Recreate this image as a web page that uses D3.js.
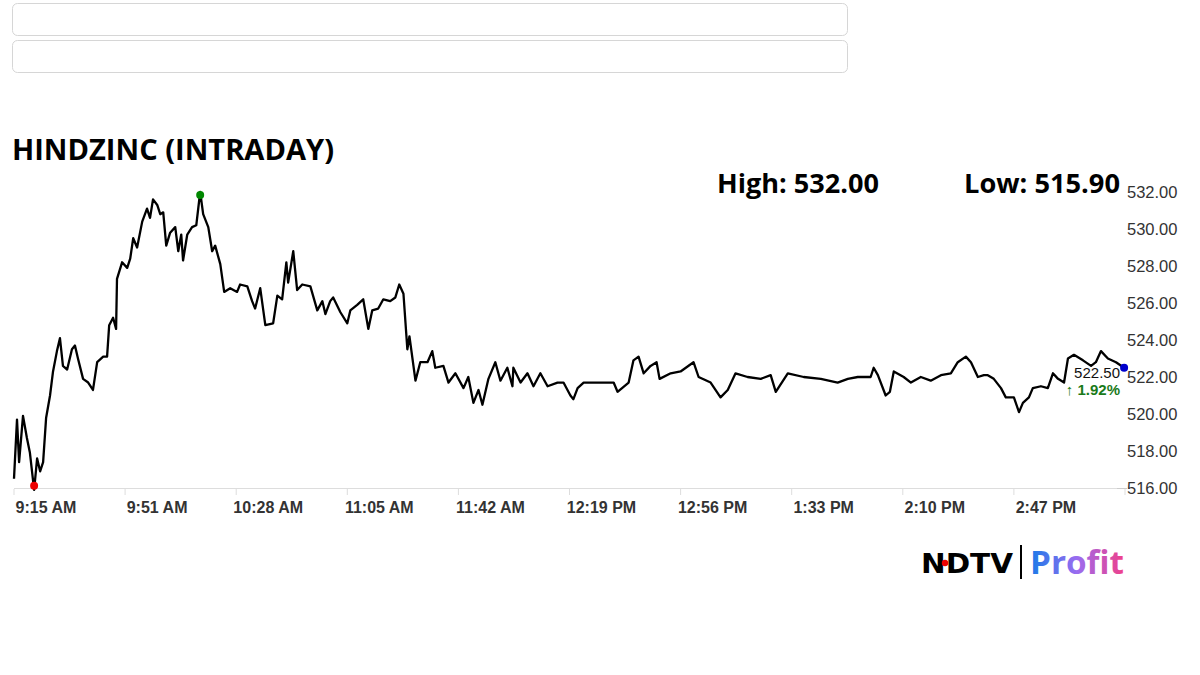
<!DOCTYPE html>
<html>
<head>
<meta charset="utf-8">
<script src="https://cdn.jsdelivr.net/npm/d3@7"></script>
<style>
  body { margin: 0; background: #fff; }
  svg text { font-family: "Liberation Sans", Arial, sans-serif; }
</style>
</head>
<body>
<div id="chart-area"></div>
<script>
// minutes after 9:15 and price
var minutes = [0,1,1.7,3,4.3,5.3,6.7,7.7,8.7,9.7,10.7,12,13,14.3,15.3,16.3,17.7,19.3,20.3,21.3,23,24.7,26.3,27.7,29.7,31,31.7,33,34,34.3,36,37.7,38.7,39.7,41,42.7,44.3,45.3,46.3,47.7,48.7,49.7,50.7,52,53.7,54.7,55.7,56.3,57.7,59.3,60.7,62,63,64.7,66,67,68.7,70,72,74.3,75.3,77.7,79.3,80.3,82,83.7,86.3,87.7,89.3,90.7,91.3,
  93,94.3,96,98.7,101,102.7,103.7,105.3,106.3,108.7,111,112,114.3,116.3,118,119.3,121.3,123,125.3,127,128.3,129.7,131,131.7,133.7,135.3,137.7,139.3,140.3,143,144.7,147,149.7,151.3,153,154.7,156,158,160.3,162,164.3,166,166.3,168.7,171,173,175.3,177.7,181,183,185.3,186.3,187.7,
  189.7,199.7,201,204.7,206.3,208,209.7,212,214,215,218.7,222,226.3,228,232,235.3,237.7,240.3,244.3,248.7,252,253.7,257.7,263,268.7,274.3,277.7,281,285.3,286.3,287.7,290.3,291.7,293,296.3,298.7,302,305.3,308.7,312,314.3,317,318.7,321,323,324.3,326.3,328.7,330.3,333,334.7,336,338,339.3,342,344.3,346,347.7,349.7,351,353,356,358.7,360.3,362,364.3,367,369.7];
var prices = [516.5,519.7,517.4,519.9,518.7,517.9,515.9,517.6,516.9,517.4,519.8,521.0,522.3,523.4,524.1,522.6,522.4,523.5,523.7,523.0,521.9,521.7,521.3,522.8,523.1,523.1,524.8,525.2,524.6,527.3,528.2,527.9,528.4,529.5,529.0,530.4,531.1,530.6,531.6,531.3,530.8,530.9,529.1,529.8,530.1,528.8,529.7,528.3,529.7,530.1,530.2,532.0,530.8,530.1,528.8,529.1,528.1,526.6,526.8,526.6,527.0,526.9,526.1,525.7,526.8,524.8,524.9,526.4,526.2,528.2,527.1,
  528.8,526.7,527.0,526.9,525.6,526.1,525.4,526.1,526.3,525.5,524.9,525.6,525.9,526.2,524.6,525.6,525.7,526.2,526.1,526.3,527.0,526.5,523.5,524.2,521.8,522.8,522.8,523.4,522.5,522.6,521.7,522.2,521.4,522.0,520.6,521.3,520.5,521.9,522.8,521.8,522.5,521.5,522.5,521.7,522.2,521.5,522.2,521.5,521.7,521.7,521.0,520.8,521.4,
  521.7,521.7,521.2,521.7,522.9,523.1,522.2,522.6,522.8,521.9,522.2,522.3,522.8,522.0,521.7,520.9,521.3,522.2,522.0,521.9,522.1,521.2,522.2,522.0,521.9,521.7,521.9,522.0,522.0,522.5,522.1,521.0,521.2,522.3,522.0,521.7,522.0,521.8,522.1,522.2,522.8,523.1,522.8,522.0,522.1,522.1,521.9,521.4,520.9,520.9,520.1,520.6,520.9,521.4,521.5,521.4,522.2,521.9,521.7,523.0,523.2,522.9,522.6,522.8,523.4,523.0,522.8,522.5];
var yTicks = [516, 518, 520, 522, 524, 526, 528, 530, 532];
var xTickMinutes = [0, 37, 74, 111, 148, 185, 222, 259, 296, 333, 370];
var xTickLabels = ["9:15 AM", "9:51 AM", "10:28 AM", "11:05 AM", "11:42 AM", "12:19 PM", "12:56 PM", "1:33 PM", "2:10 PM", "2:47 PM", ""];
var highValue = 532.00, lowValue = 515.90, lastValue = 522.50, changePct = 1.92;

var data = minutes.map(function(m, i) { return { m: m, p: prices[i] }; });

var svg = d3.select("#chart-area").append("svg")
    .attr("width", 1200)
    .attr("height", 675);

// empty boxes at top
[3, 40].forEach(function(y) {
  svg.append("rect").attr("x", 12.5).attr("y", y + 0.5).attr("width", 835).attr("height", 32)
    .attr("rx", 5).attr("fill", "#fff").attr("stroke", "#d6d6d6");
});

var x = d3.scaleLinear().domain([0, 370]).range([14, 1125]);
var y = d3.scaleLinear().domain([516, 532]).range([488, 192]);

// x axis
svg.append("line").attr("x1", 14).attr("x2", 1125).attr("y1", 488.5).attr("y2", 488.5)
  .attr("stroke", "#ddd");
svg.append("line").attr("x1", 1117).attr("x2", 1127).attr("y1", 488.5).attr("y2", 488.5)
  .attr("stroke", "#ccc");
var xt = svg.append("g");
xTickMinutes.forEach(function(m, i) {
  xt.append("line").attr("x1", x(m)).attr("x2", x(m)).attr("y1", 489).attr("y2", 495)
    .attr("stroke", "#ddd");
  xt.append("text").attr("x", x(m) + 32).attr("y", 513).attr("text-anchor", "middle")
    .attr("font-size", 16).attr("font-weight", "bold").attr("fill", "#333")
    .text(xTickLabels[i]);
});

// y axis labels
yTicks.forEach(function(v) {
  svg.append("text").attr("x", 1127).attr("y", y(v) + 6)
    .attr("font-size", 16.5).attr("fill", "#333").text(v.toFixed(2));
});

var line = d3.line().x(function(d) { return x(d.m); }).y(function(d) { return y(d.p); });
svg.append("path").datum(data).attr("d", line)
  .attr("fill", "none").attr("stroke", "#000").attr("stroke-width", 2.3).attr("stroke-linejoin", "round");

// high / low / last markers
var lowPt = data.reduce(function(a, b) { return b.p < a.p ? b : a; });
var highPt = data.reduce(function(a, b) { return b.p > a.p ? b : a; });
var lastPt = data[data.length - 1];
svg.append("circle").attr("cx", x(lowPt.m)).attr("cy", y(lowPt.p) - 4).attr("r", 4).attr("fill", "#e00");
svg.append("circle").attr("cx", x(highPt.m)).attr("cy", y(highPt.p) + 3).attr("r", 4).attr("fill", "#080");
svg.append("circle").attr("cx", x(lastPt.m)).attr("cy", y(lastPt.p)).attr("r", 4).attr("fill", "#00c");

svg.append("text").attr("x", 1120).attr("y", y(lastValue) + 10).attr("text-anchor", "end")
  .attr("font-size", 15).attr("fill", "#111").text(lastValue.toFixed(2));
svg.append("text").attr("x", 1120).attr("y", y(lastValue) + 27).attr("text-anchor", "end")
  .attr("font-size", 15).attr("font-weight", "bold").attr("fill", "#1a7a1a")
  .text("\u2191 " + changePct.toFixed(2) + "%");

// titles
svg.append("text").attr("x", 12).attr("y", 160)
  .style("font-family", "'Open Sans', sans-serif").attr("font-size", 29).attr("font-weight", 700)
  .attr("fill", "#000").attr("textLength", 322).attr("lengthAdjust", "spacingAndGlyphs")
  .text("HINDZINC (INTRADAY)");
svg.append("text").attr("x", 717).attr("y", 193)
  .style("font-family", "'Open Sans', sans-serif").attr("font-size", 27).attr("font-weight", 700)
  .attr("textLength", 162).attr("lengthAdjust", "spacingAndGlyphs")
  .text("High: " + highValue.toFixed(2));
svg.append("text").attr("x", 964).attr("y", 193)
  .style("font-family", "'Open Sans', sans-serif").attr("font-size", 27).attr("font-weight", 700)
  .attr("textLength", 156).attr("lengthAdjust", "spacingAndGlyphs")
  .text("Low: " + lowValue.toFixed(2));

// logo
var defs = svg.append("defs");
var grad = defs.append("linearGradient").attr("id", "pg");
grad.append("stop").attr("offset", "0%").attr("stop-color", "#1a7be8");
grad.append("stop").attr("offset", "50%").attr("stop-color", "#9a6cf0");
grad.append("stop").attr("offset", "100%").attr("stop-color", "#f0408a");
svg.append("text").attr("x", 921).attr("y", 573)
  .style("font-family", "'DejaVu Sans', sans-serif").attr("font-size", 27).attr("font-weight", "bold")
  .attr("textLength", 92).attr("lengthAdjust", "spacingAndGlyphs").text("NDTV");
svg.append("circle").attr("cx", 945).attr("cy", 563).attr("r", 3.2).attr("fill", "#e00");
svg.append("rect").attr("x", 1020).attr("y", 545).attr("width", 2).attr("height", 34).attr("fill", "#000");
svg.append("text").attr("x", 1030).attr("y", 574)
  .style("font-family", "'Open Sans', sans-serif").attr("font-size", 32).attr("font-weight", "bold")
  .attr("fill", "url(#pg)").attr("textLength", 94).attr("lengthAdjust", "spacingAndGlyphs").text("Profit");
</script>
</body>
</html>
